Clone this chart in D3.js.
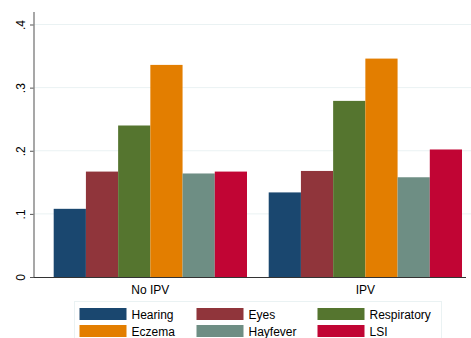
<!DOCTYPE html>
<html>
<head>
<meta charset="utf-8">
<script src="https://cdn.jsdelivr.net/npm/d3@7"></script>
<style>
  body { margin: 0; background: #fff; }
  text { font-family: "Liberation Sans", Arial, sans-serif; }
</style>
</head>
<body>
<div id="chart"></div>
<script>
const groups = ["No IPV", "IPV"];
const outcomes = ["Hearing", "Eyes", "Respiratory", "Eczema", "Hayfever", "LSI"];
const noIpv = [0.108, 0.167, 0.240, 0.336, 0.164, 0.167];
const ipv = [0.134, 0.168, 0.279, 0.346, 0.158, 0.202];
const yTicks = [0, 0.1, 0.2, 0.3, 0.4];
const yTickLabels = ["0", ".1", ".2", ".3", ".4"];
const colors = ["#1a476f", "#90353b", "#55752f", "#e37e00", "#6e8e84", "#c10534"];

const width = 471, height = 338;
const values = { "No IPV": noIpv, "IPV": ipv };

const svg = d3.select("#chart").append("svg")
  .attr("width", width)
  .attr("height", height);

const y = d3.scaleLinear().domain([0, 0.4]).range([277, 24.5]);

// two groups, gap between them
const x0 = d3.scaleBand().domain(groups).range([34, 481.7]).paddingInner(0.101).paddingOuter(0.0916);
const x1 = d3.scaleBand().domain(outcomes).range([0, x0.bandwidth()]);

// gridlines
svg.append("g")
  .selectAll("line")
  .data(yTicks.slice(1))
  .enter().append("line")
  .attr("x1", 34).attr("x2", 471)
  .attr("y1", d => y(d)).attr("y2", d => y(d))
  .attr("stroke", "#eaf2f3")
  .attr("stroke-width", 1);

// bars
const g = svg.append("g")
  .selectAll("g")
  .data(groups)
  .enter().append("g")
  .attr("transform", d => `translate(${x0(d)},0)`);

g.selectAll("rect")
  .data(d => values[d].map((v, i) => ({ k: outcomes[i], v: v, c: colors[i] })))
  .enter().append("rect")
  .attr("x", d => x1(d.k))
  .attr("width", x1.bandwidth())
  .attr("y", d => y(d.v))
  .attr("height", d => y(0) - y(d.v))
  .attr("fill", d => d.c);

// y axis
const yAxis = svg.append("g")
  .attr("transform", "translate(34,0)")
  .call(d3.axisLeft(y).tickValues(yTicks).tickFormat((d, i) => yTickLabels[i]).tickSize(4).tickSizeOuter(0));
yAxis.select(".domain").remove();
yAxis.append("line")
  .attr("x1", 0).attr("x2", 0).attr("y1", 12).attr("y2", 277)
  .attr("stroke", "#8a8a8a").attr("stroke-width", 1.5);
yAxis.selectAll(".tick line").attr("stroke", "#555");
yAxis.selectAll(".tick text")
  .attr("fill", "#000")
  .style("font-size", "12px")
  .attr("text-anchor", "middle")
  .attr("x", 0)
  .attr("dy", "0")
  .attr("transform", "translate(-13,0) rotate(-90)")
  .attr("y", 4);

// x baseline
svg.append("line")
  .attr("x1", 34).attr("x2", 466)
  .attr("y1", 277.5).attr("y2", 277.5)
  .attr("stroke", "#333").attr("stroke-width", 1);

// group labels
svg.append("g")
  .selectAll("text")
  .data(groups)
  .enter().append("text")
  .attr("x", d => x0(d) + x0.bandwidth() / 2)
  .attr("y", 294)
  .attr("text-anchor", "middle")
  .style("font-size", "12px")
  .text(d => d);

// legend
const legend = svg.append("g");
legend.append("rect")
  .attr("x", 74.5).attr("y", 301.5)
  .attr("width", 367).attr("height", 50)
  .attr("fill", "#fff")
  .attr("stroke", "#eaf2f3");

const colX = [79.5, 196.5, 317.5];
const rowY = [308, 325];
const item = legend.selectAll("g.item")
  .data(outcomes)
  .enter().append("g")
  .attr("transform", (d, i) => `translate(${colX[i % 3]},${rowY[Math.floor(i / 3)]})`);
item.append("rect")
  .attr("width", 47).attr("height", 12)
  .attr("fill", (d, i) => colors[i]);
item.append("text")
  .attr("x", 52).attr("y", 10.5)
  .style("font-size", "12px")
  .text(d => d);
</script>
</body>
</html>
